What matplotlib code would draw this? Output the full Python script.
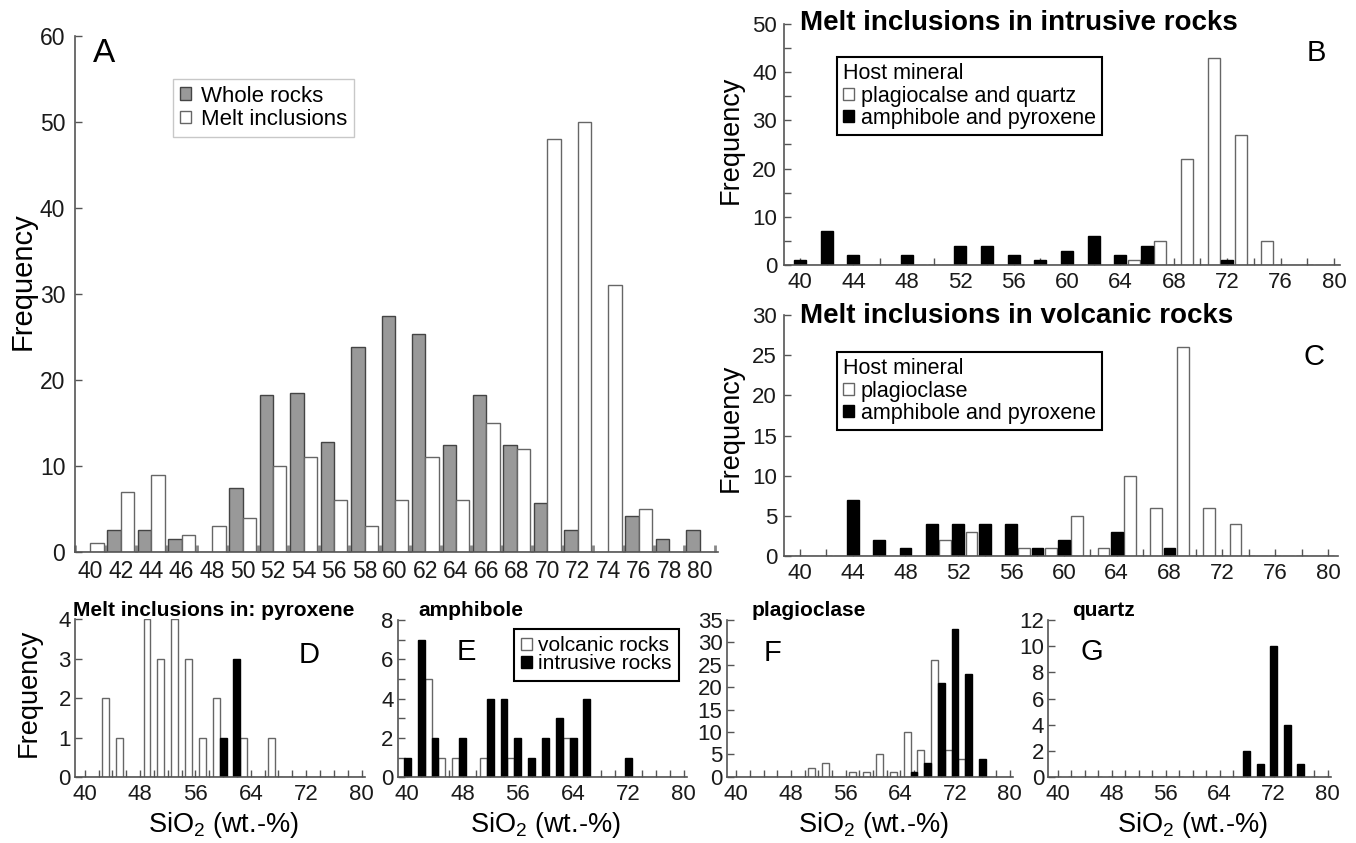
"""
plot.py

SiO2 frequency histograms: whole rocks vs melt inclusions (A),
melt inclusions by host rock (B, C) and by host mineral (D-G).
"""

import numpy as np
import matplotlib
matplotlib.use("Agg")
import matplotlib.pyplot as plt
from matplotlib.patches import Patch
from matplotlib.ticker import MultipleLocator

plt.rcParams["font.family"] = ["Liberation Sans", "DejaVu Sans"]
plt.rcParams["mathtext.fontset"] = "custom"
plt.rcParams["mathtext.rm"] = "Liberation Sans"
plt.rcParams["mathtext.default"] = "regular"

# -------------------------------------------------------------------
# Data (frequency per 2 wt.-% SiO2 bin)
# -------------------------------------------------------------------

SIO2_BINS = np.arange(40, 82, 2)

# A: whole rocks vs melt inclusions
WHOLE_ROCKS = [0, 2.6, 2.6, 1.5, 0, 7.5, 18.2, 18.5, 12.8, 23.8, 27.5,
               25.3, 12.4, 18.2, 12.4, 5.7, 2.6, 0, 4.2, 1.5, 2.6]
MELT_INCLUSIONS = [1, 7, 9, 2, 3, 4, 10, 11, 6, 3, 6,
                   11, 6, 15, 12, 48, 50, 31, 5, 0, 0]

# B: intrusive rocks
INTR_PLAG_QTZ = [0, 0, 0, 0, 0, 0, 0, 0, 0, 0, 0,
                 0, 0, 1, 5, 22, 43, 27, 5, 0, 0]
INTR_AMPH_PYX = [1, 7, 2, 0, 2, 0, 4, 4, 2, 1, 3,
                 6, 2, 4, 0, 0, 1, 0, 0, 0, 0]

# C: volcanic rocks
VOLC_PLAG = [0, 0, 0, 0, 0, 0, 2, 3, 0, 1, 1,
             5, 1, 10, 6, 26, 6, 4, 0, 0, 0]
VOLC_AMPH_PYX = [0, 0, 7, 2, 1, 4, 4, 4, 4, 1, 2,
                 0, 3, 0, 1, 0, 0, 0, 0, 0, 0]

# D-G: by host mineral (volcanic / intrusive)
PYX_VOLC = [0, 0, 2, 1, 0, 4, 3, 4, 3, 1, 2, 0, 1, 0, 1, 0, 0, 0, 0, 0, 0]
PYX_INTR = [0, 0, 0, 0, 0, 0, 0, 0, 0, 0, 1, 3, 0, 0, 0, 0, 0, 0, 0, 0, 0]
AMPH_VOLC = [0, 0, 5, 1, 1, 0, 1, 0, 1, 0, 0, 0, 2, 0, 0, 0, 0, 0, 0, 0, 0]
AMPH_INTR = [1, 7, 2, 0, 2, 0, 4, 4, 2, 1, 2, 3, 2, 4, 0, 0, 1, 0, 0, 0, 0]
PLAG_VOLC = VOLC_PLAG
PLAG_INTR = [0, 0, 0, 0, 0, 0, 0, 0, 0, 0, 0, 0, 0, 1, 3, 21, 33, 23, 4, 0, 0]
QTZ_INTR = [0, 0, 0, 0, 0, 0, 0, 0, 0, 0, 0, 0, 0, 0, 2, 1, 10, 4, 1, 0, 0]

# -------------------------------------------------------------------
# Layout helpers
# -------------------------------------------------------------------

W, H = 1356, 843
fig = plt.figure(figsize=(W / 100, H / 100), dpi=100)

AXIS_GREY = "#555555"
WHITE_EDGE = "#666666"


def add_axes_px(left, top, right, bottom):
    return fig.add_axes([left / W, 1 - bottom / H,
                         (right - left) / W, (bottom - top) / H])


def style_axes(ax):
    for side in ("top", "right"):
        ax.spines[side].set_visible(False)
    for side in ("left", "bottom"):
        ax.spines[side].set_color(AXIS_GREY)
        ax.spines[side].set_linewidth(1.2)
    ax.set_axisbelow(True)
    ax.tick_params(which="both", direction="in", color=AXIS_GREY,
                   labelcolor="#1a1a1a", labelsize=16, length=5, width=1, pad=5)


def fig_text(x, y, s, **kw):
    return fig.text(x / W, 1 - y / H, s, **kw)


def pair_bars(ax, white, black, width):
    x = np.asarray(SIO2_BINS)
    if white is not None:
        ax.bar(x - 1, white, width=width, facecolor="white",
               edgecolor=WHITE_EDGE, linewidth=1)
    ax.bar(x, black, width=width, facecolor="black",
           edgecolor="black", linewidth=1)


def legend_px(ax, handles, labels, x, y, **kw):
    opts = dict(loc="upper left", bbox_to_anchor=(x / W, 1 - y / H),
                bbox_transform=fig.transFigure, borderaxespad=0,
                fancybox=False, framealpha=1, fontsize=15.5,
                handlelength=0.5, handleheight=0.5, handletextpad=0.3,
                borderpad=0.3, labelspacing=0.05)
    opts.update(kw)
    return ax.legend(handles, labels, **opts)


# -------------------------------------------------------------------
# A: whole rocks vs melt inclusions
# -------------------------------------------------------------------

ax_a = add_axes_px(75, 36, 718, 552)
style_axes(ax_a)
x = np.asarray(SIO2_BINS)
ax_a.bar(x - 0.44, WHOLE_ROCKS, width=0.88, facecolor="#999999",
         edgecolor="#444444", linewidth=1)
ax_a.bar(x + 0.44, MELT_INCLUSIONS, width=0.88, facecolor="white",
         edgecolor=WHITE_EDGE, linewidth=1)
ax_a.set_xlim(39.0, 81.2)
ax_a.set_ylim(0, 60)
ax_a.set_xticks(SIO2_BINS)
ax_a.xaxis.set_minor_locator(MultipleLocator(2, offset=1))
ax_a.yaxis.set_major_locator(MultipleLocator(10))
ax_a.tick_params(axis="x", which="major", length=0, pad=6, labelsize=16.5)
ax_a.tick_params(axis="x", which="minor", length=5, width=2, color="#888888")
ax_a.tick_params(axis="y", pad=7, labelsize=16.5)
leg_a = legend_px(ax_a,
                  [Patch(facecolor="#999999", edgecolor="#444444"),
                   Patch(facecolor="white", edgecolor=WHITE_EDGE)],
                  ["Whole rocks", "Melt inclusions"], 173, 79,
                  fontsize=16, handletextpad=0.45, labelspacing=0.1)
leg_a.get_frame().set_edgecolor("#c8c8c8")
leg_a.get_frame().set_linewidth(1)
fig_text(104, 54, "A", fontsize=24, ha="center", va="center")
fig_text(23, 281, "Frequency", fontsize=21, rotation=90,
         ha="center", va="center")

# -------------------------------------------------------------------
# B, C: host rock panels
# -------------------------------------------------------------------

host_panels = [
    # box px, xlim, ymax, major/minor y step, white, black, title, letter,
    # white legend label, title/legend/letter/ylabel y positions
    ((784, 24, 1340, 265), (38.8, 80.45), 50, 10, 5,
     INTR_PLAG_QTZ, INTR_AMPH_PYX, "Melt inclusions in intrusive rocks",
     "B", "plagiocalse and quartz", 30, 57, 53, 140),
    ((784, 315, 1338, 556), (38.8, 80.76), 30, 5, 5,
     VOLC_PLAG, VOLC_AMPH_PYX, "Melt inclusions in volcanic rocks",
     "C", "plagioclase", 323, 352, 357, 428),
]

for (box, xlim, ymax, ymaj, ymin, white, black, title, letter,
     white_label, title_y, legend_y, letter_y, ylabel_y) in host_panels:
    ax = add_axes_px(*box)
    style_axes(ax)
    pair_bars(ax, white, black, 0.9)
    ax.set_xlim(*xlim)
    ax.set_ylim(0, ymax)
    ax.xaxis.set_major_locator(MultipleLocator(4))
    ax.xaxis.set_minor_locator(MultipleLocator(2))
    ax.yaxis.set_major_locator(MultipleLocator(ymaj))
    ax.yaxis.set_minor_locator(MultipleLocator(ymin))
    leg = legend_px(ax,
                    [Patch(facecolor="white", edgecolor=WHITE_EDGE),
                     Patch(facecolor="black", edgecolor="black")],
                    [white_label, "amphibole and pyroxene"], 837, legend_y,
                    title="Host mineral", title_fontsize=15.5,
                    alignment="left")
    leg.get_frame().set_edgecolor("black")
    leg.get_frame().set_linewidth(1.5)
    fig_text(800, title_y, title, fontsize=20, fontweight="bold",
             ha="left", va="baseline")
    fig_text(box[2] - 24, letter_y, letter, fontsize=21,
             ha="center", va="center")
    fig_text(731, ylabel_y, "Frequency", fontsize=19.5, rotation=90,
             ha="center", va="center")

# -------------------------------------------------------------------
# D-G: host mineral panels
# -------------------------------------------------------------------

mineral_panels = [
    ((75, 619.3, 365, 777.3), 4, 1, 1, PYX_VOLC, PYX_INTR,
     "Melt inclusions in: pyroxene", 73, "D", 309, 655),
    ((397.7, 620, 687, 777.3), 8, 2, 1, AMPH_VOLC, AMPH_INTR,
     "amphibole", 418, "E", 466, 652),
    ((726.7, 620, 1013, 776.7), 35, 5, 5, PLAG_VOLC, PLAG_INTR,
     "plagioclase", 752, "F", 772, 653),
    ((1048.3, 620, 1331, 777.3), 12, 2, 2, None, QTZ_INTR,
     "quartz", 1072, "G", 1092, 652),
]

for (box, ymax, ymaj, ymin, white, black, title, title_x,
     letter, letter_x, letter_y) in mineral_panels:
    ax = add_axes_px(*box)
    style_axes(ax)
    pair_bars(ax, white, black, 1.0)
    ax.set_xlim(38.6, 80.5)
    ax.set_ylim(0, ymax)
    ax.xaxis.set_major_locator(MultipleLocator(8))
    ax.xaxis.set_minor_locator(MultipleLocator(2))
    ax.yaxis.set_major_locator(MultipleLocator(ymaj))
    ax.yaxis.set_minor_locator(MultipleLocator(ymin))
    ax.tick_params(axis="y", pad=3)
    fig_text(title_x, 616.5, title, fontsize=15, fontweight="bold",
             ha="left", va="baseline")
    fig_text(letter_x, letter_y, letter, fontsize=21,
             ha="center", va="center")
    center_x = (box[0] + box[2]) / 2 + 3
    fig_text(center_x, 832, "SiO$_2$ (wt.-%)", fontsize=19.5,
             ha="center", va="baseline")
    if letter == "D":
        fig_text(29, 693, "Frequency", fontsize=19.5, rotation=90,
                 ha="center", va="center")
    if letter == "E":
        leg = legend_px(ax,
                        [Patch(facecolor="white", edgecolor=WHITE_EDGE),
                         Patch(facecolor="black", edgecolor="black")],
                        ["volcanic rocks", "intrusive rocks"], 514, 629,
                        fontsize=15, labelspacing=-0.05, borderpad=0.35)
        leg.get_frame().set_edgecolor("black")
        leg.get_frame().set_linewidth(1.5)

fig.savefig("out.png", dpi=100)
